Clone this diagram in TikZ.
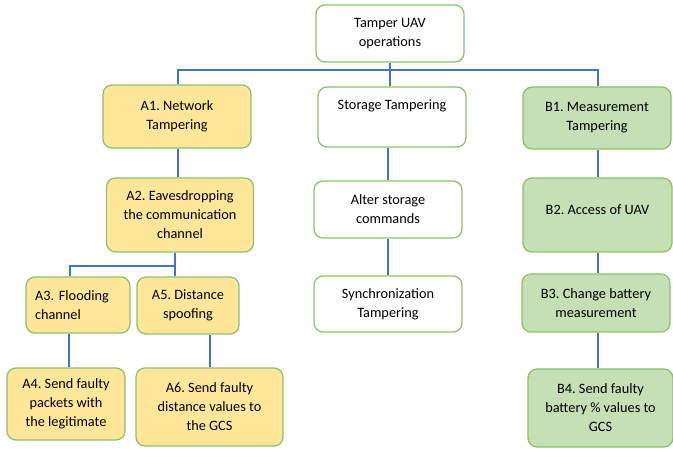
\documentclass[tikz,border=0pt]{standalone}
\usepackage{fontspec}
\setmainfont{Carlito}
\frenchspacing
\usetikzlibrary{positioning}
\definecolor{boxline}{HTML}{8CC26C}
\definecolor{netfill}{HTML}{FFE699}
\definecolor{measfill}{HTML}{C5E0B4}
\definecolor{linkblue}{HTML}{4472C4}
\tikzset{
  box/.style={draw=boxline, line width=1.3pt, rounded corners=9pt,
    align=center, inner sep=3pt,
    font=\fontsize{14.3}{19}\selectfont},
  plainbox/.style={box, fill=white},
  netbox/.style={box, fill=netfill},
  measbox/.style={box, fill=measfill},
  link/.style={draw=linkblue, line width=2pt},
}
\begin{document}
\begin{tikzpicture}[x=1pt, y=-1pt]
  \useasboundingbox (0,0) rectangle (673,449);
  % top level
  \node[plainbox, minimum width=148pt, minimum height=57pt] (root) at (390,33.5) {Tamper UAV\\operations};
  \node[netbox, minimum width=148pt, minimum height=63pt] (a1) at (177,116.5) {A1. Network\\Tampering};
  \node[plainbox, minimum width=148pt, minimum height=60pt] (st) at (392,117) {Storage Tampering\\[6pt]\mbox{}};
  \node[measbox, minimum width=148pt, minimum height=62pt] (b1) at (597,118) {B1. Measurement\\Tampering};
  % network branch
  \node[netbox, minimum width=147pt, minimum height=74pt] (a2) at (180,215) {A2. Eavesdropping\\the communication\\channel};
  \node[netbox, minimum width=104pt, minimum height=56pt, align=left, text width=86pt] (a3) at (78,305) {A3. Flooding\\channel};
  \node[netbox, minimum width=102pt, minimum height=57pt] (a5) at (188,305.5) {A5. Distance\\spoofing};
  \node[netbox, minimum width=118pt, minimum height=72pt] (a4) at (66,404) {A4. Send faulty\\packets with\\the legitimate};
  \node[netbox, minimum width=147pt, minimum height=78pt] (a6) at (209.5,407) {A6. Send faulty\\distance values to\\the GCS};
  % storage branch
  \node[plainbox, minimum width=148pt, minimum height=57pt] (alt) at (388,209.5) {Alter storage\\commands};
  \node[plainbox, minimum width=148pt, minimum height=56pt] (syn) at (388,304) {Synchronization\\Tampering};
  % measurement branch
  \node[measbox, minimum width=149pt, minimum height=74pt] (b2) at (597.5,215) {B2. Access of UAV\\[-8pt]\mbox{}};
  \node[measbox, minimum width=148pt, minimum height=58pt] (b3) at (596,303) {B3. Change battery\\measurement};
  \node[measbox, minimum width=145pt, minimum height=78pt] (b4) at (600.5,408) {B4. Send faulty\\battery \% values to\\GCS};
  % connectors
  \coordinate (bus) at (390,70);
  \coordinate (split) at (175,266);
  \draw[link] (root.south) -- (root.south |- st.north);
  \draw[link] ([xshift=1pt]a1.north) -- ([xshift=1pt]a1.north |- bus) -| ([xshift=1pt]b1.north);
  \draw[link] ([xshift=1pt]a1.south) -- ([xshift=1pt]a1.south |- a2.north);
  \draw[link] (a2.south -| split) -- (split |- a5.north);
  \draw[link] (split) -| ([xshift=-8pt]a3.north);
  \draw[link] ([xshift=-9pt]a3.south) -- ([xshift=-9pt]a3.south |- a4.north);
  \draw[link] (a6.north) -- (a6.north |- a5.south);
  \draw[link] (alt.north) -- (alt.north |- st.south);
  \draw[link] (alt.south) -- (syn.north);
  \draw[link] (b2.north) -- (b2.north |- b1.south);
  \draw[link] (b2.south) -- (b2.south |- b3.north);
  \draw[link] (b2.south |- b3.south) -- (b2.south |- b4.north);
\end{tikzpicture}
\end{document}
